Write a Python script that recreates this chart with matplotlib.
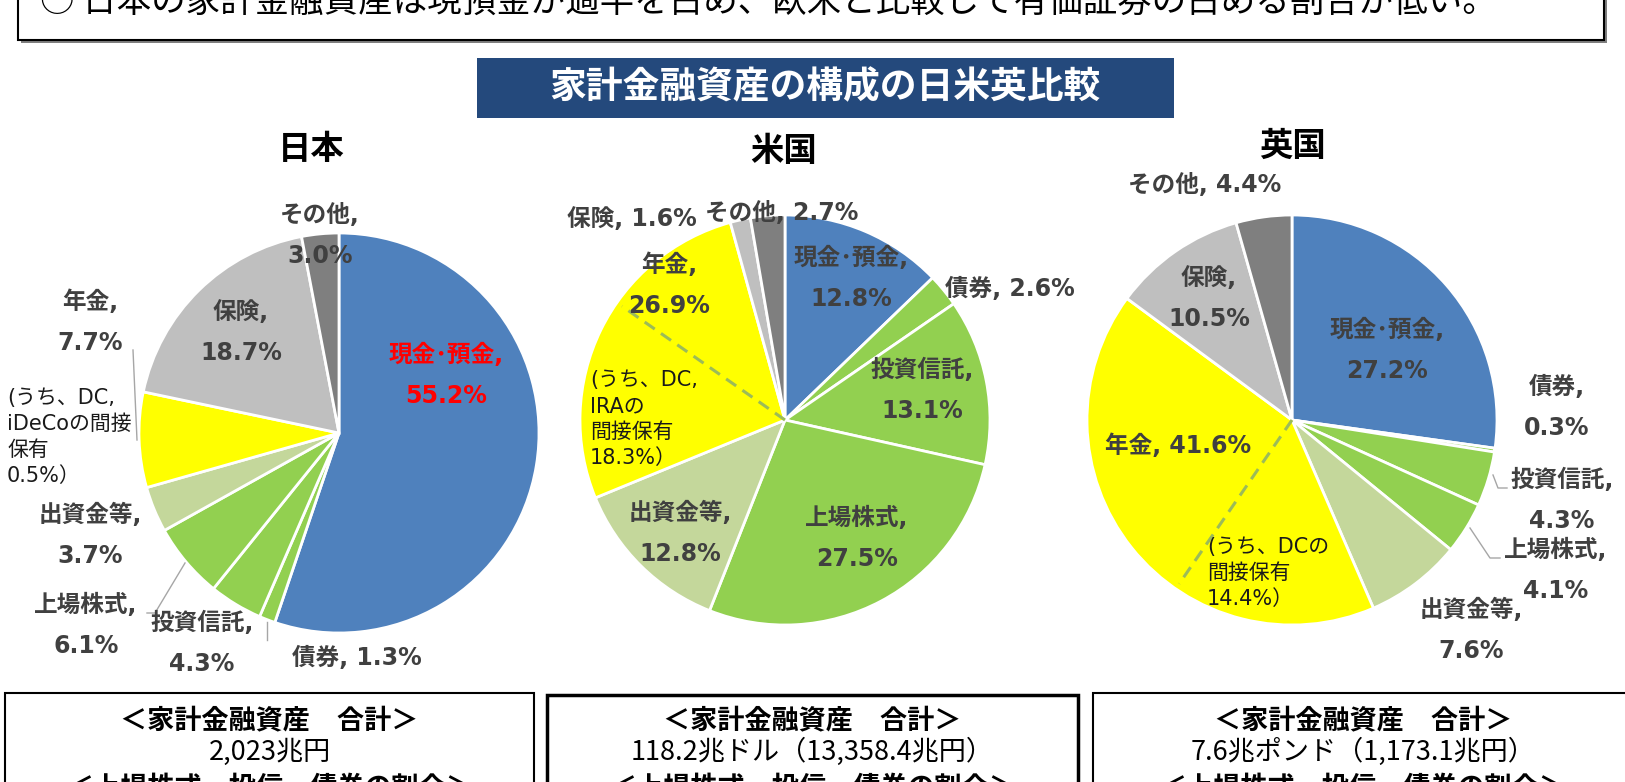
import numpy as np
import matplotlib.pyplot as plt
from matplotlib.patches import Rectangle

W, H = 1625, 782

LABEL_FONT = ['DejaVu Sans', 'Noto Sans CJK JP']
JP_FONT = ['Noto Sans CJK JP', 'DejaVu Sans']

# data
categories = ['現金･預金', '債券', '投資信託', '上場株式', '出資金等', '年金', '保険', 'その他']
jp_share = [55.2, 1.3, 4.3, 6.1, 3.7, 7.7, 18.7, 3.0]
us_share = [12.8, 2.6, 13.1, 27.5, 12.8, 26.9, 1.6, 2.7]
uk_share = [27.2, 0.3, 4.3, 4.1, 7.6, 41.6, 10.5, 4.4]
slice_colors = ['#4F81BD', '#92D050', '#92D050', '#92D050', '#C4D79B', '#FFFF00', '#BFBFBF', '#7F7F7F']

countries = ['日本', '米国', '英国']
jp_dc, us_dc, uk_dc = 0.5, 18.3, 14.4
# where the dashed divider sits inside the pension wedge (points from its start), as drawn
us_dc_line, uk_dc_line = 15.9, 16.1

totals = ['2,023兆円', '118.2兆ドル（13,358.4兆円）', '7.6兆ポンド（1,173.1兆円）']
headline = '○ 日本の家計金融資産は現預金が過半を占め、欧米と比較して有価証券の占める割合が低い。'
banner = '家計金融資産の構成の日米英比較'

# label layout per pie: (x, y) of name line; one-line labels read "name, value"
jp_pos = [(446, 355), (357, 658), (202, 623), (86, 605), (90, 515), (90, 302), (241, 312), (320, 215)]
jp_one = [False, True, False, False, False, False, False, False]
us_pos = [(851, 258), (1010, 289), (922, 370), (857, 518), (680, 513), (669, 265), (632, 219), (782, 213)]
us_one = [False, True, False, False, False, False, True, True]
uk_pos = [(1387, 330), (1557, 387), (1562, 480), (1556, 550), (1471, 610), (1178, 446), (1209, 278), (1205, 185)]
uk_one = [False, False, False, False, False, True, False, True]

fig = plt.figure(figsize=(W / 100, H / 100), dpi=100)
ax = fig.add_axes([0, 0, 1, 1])


def draw_pie(shares, cx, cy, r):
    # y runs downward (pixel rows): startangle=-90 + counterclock gives clockwise from 12 o'clock on screen
    ax.pie(shares, colors=slice_colors, startangle=-90, counterclock=True,
           center=(cx, cy), radius=r, frame=True,
           wedgeprops=dict(edgecolor='white', linewidth=2))


def dc_divider(shares, dc_line, cx, cy, r):
    theta = np.radians(-90 + 3.6 * (sum(shares[:5]) + dc_line))
    ax.plot([cx, cx + 0.97 * r * np.cos(theta)], [cy, cy + 0.97 * r * np.sin(theta)],
            color='#9BBB59', lw=2.2, ls=(0, (4, 2.5)), zorder=5)


def draw_labels(shares, pos, one_line, red_first=False):
    for i, (cat, v) in enumerate(zip(categories, shares)):
        x, y = pos[i]
        col = '#FF0000' if (red_first and i == 0) else '#404040'
        if one_line[i]:
            ax.text(x, y, f'{cat}, {v}%', ha='center', va='center', fontsize=17,
                    fontweight='bold', color=col, family=LABEL_FONT, zorder=6)
        else:
            ax.text(x, y, f'{cat},', ha='center', va='center', fontsize=17,
                    fontweight='bold', color=col, family=LABEL_FONT, zorder=6)
            ax.text(x, y + 41, f'{v}%', ha='center', va='center', fontsize=17,
                    fontweight='bold', color=col, family=LABEL_FONT, zorder=6)


def dc_note(lines, x, y, step=26):
    for k, s in enumerate(lines):
        ax.text(x, y + k * step, s, ha='left', va='center', fontsize=15,
                color='#1A1A1A', family=LABEL_FONT, zorder=6)


def leader(xs, ys):
    ax.plot(xs, ys, color='#A6A6A6', lw=1, zorder=4)


# headline box, clipped at the top of the slide
ax.add_patch(Rectangle((21, -40), 1586, 83, facecolor='#7F7F7F', edgecolor='none', zorder=1))
ax.add_patch(Rectangle((18, -40), 1586, 80, facecolor='white', edgecolor='black', lw=1.5, zorder=2))
ax.text(40, 2, headline, ha='left', va='center', fontsize=24.8, family=JP_FONT, color='black', zorder=3)

# banner
ax.add_patch(Rectangle((477, 58), 697, 60, facecolor='#24497C', edgecolor='none', zorder=1))
ax.text(825, 88, banner, ha='center', va='center', fontsize=26.5, fontweight='bold',
        color='white', family=JP_FONT, zorder=3)

# pies
centers = [(339, 433, 200), (785, 420, 205), (1292, 420, 205)]
title_xy = [(311, 150), (784, 152), (1292, 146)]
for name, (tx, ty) in zip(countries, title_xy):
    ax.text(tx, ty, name, ha='center', va='center', fontsize=24, fontweight='bold',
            color='black', family=JP_FONT)

draw_pie(jp_share, *centers[0])
draw_pie(us_share, *centers[1])
draw_pie(uk_share, *centers[2])
dc_divider(us_share, us_dc_line, *centers[1])
dc_divider(uk_share, uk_dc_line, *centers[2])

draw_labels(jp_share, jp_pos, jp_one, red_first=True)
draw_labels(us_share, us_pos, us_one)
draw_labels(uk_share, uk_pos, uk_one)

dc_note(['(うち、DC,', 'iDeCoの間接', '保有', f'{jp_dc}%）'], 7, 398)
dc_note(['(うち、DC,', 'IRAの', '間接保有', f'{us_dc}%）'], 590, 380)
dc_note(['(うち、DCの', '間接保有', f'{uk_dc}%）'], 1207, 547)

leader([133, 137], [350, 440])
leader([147, 155, 185], [613, 613, 563])
leader([267, 267], [622, 640])
leader([1493, 1498, 1507], [475, 488, 488])
leader([1470, 1490, 1500], [528, 558, 558])

# totals boxes, running off the bottom
boxes = [(5, 693, 529, 1.5), (547, 695, 531, 2.5), (1093, 693, 540, 1.5)]
for (bx, by, bw, lw), total in zip(boxes, totals):
    ax.add_patch(Rectangle((bx, by), bw, 200, facecolor='white', edgecolor='black', lw=lw, zorder=1))
    mx = bx + bw / 2
    ax.text(mx, 720, '＜家計金融資産　合計＞', ha='center', va='center', fontsize=19.5,
            fontweight='bold', family=JP_FONT, zorder=3)
    ax.text(mx, 752, total, ha='center', va='center', fontsize=19.5, family=JP_FONT, zorder=3)
    ax.text(mx, 788, '＜上場株式・投信・債券の割合＞', ha='center', va='center', fontsize=19.5,
            fontweight='bold', family=JP_FONT, zorder=3)

ax.set_xlim(0, W)
ax.set_ylim(H, 0)
ax.axis('off')

fig.savefig('out.png', dpi=100)
